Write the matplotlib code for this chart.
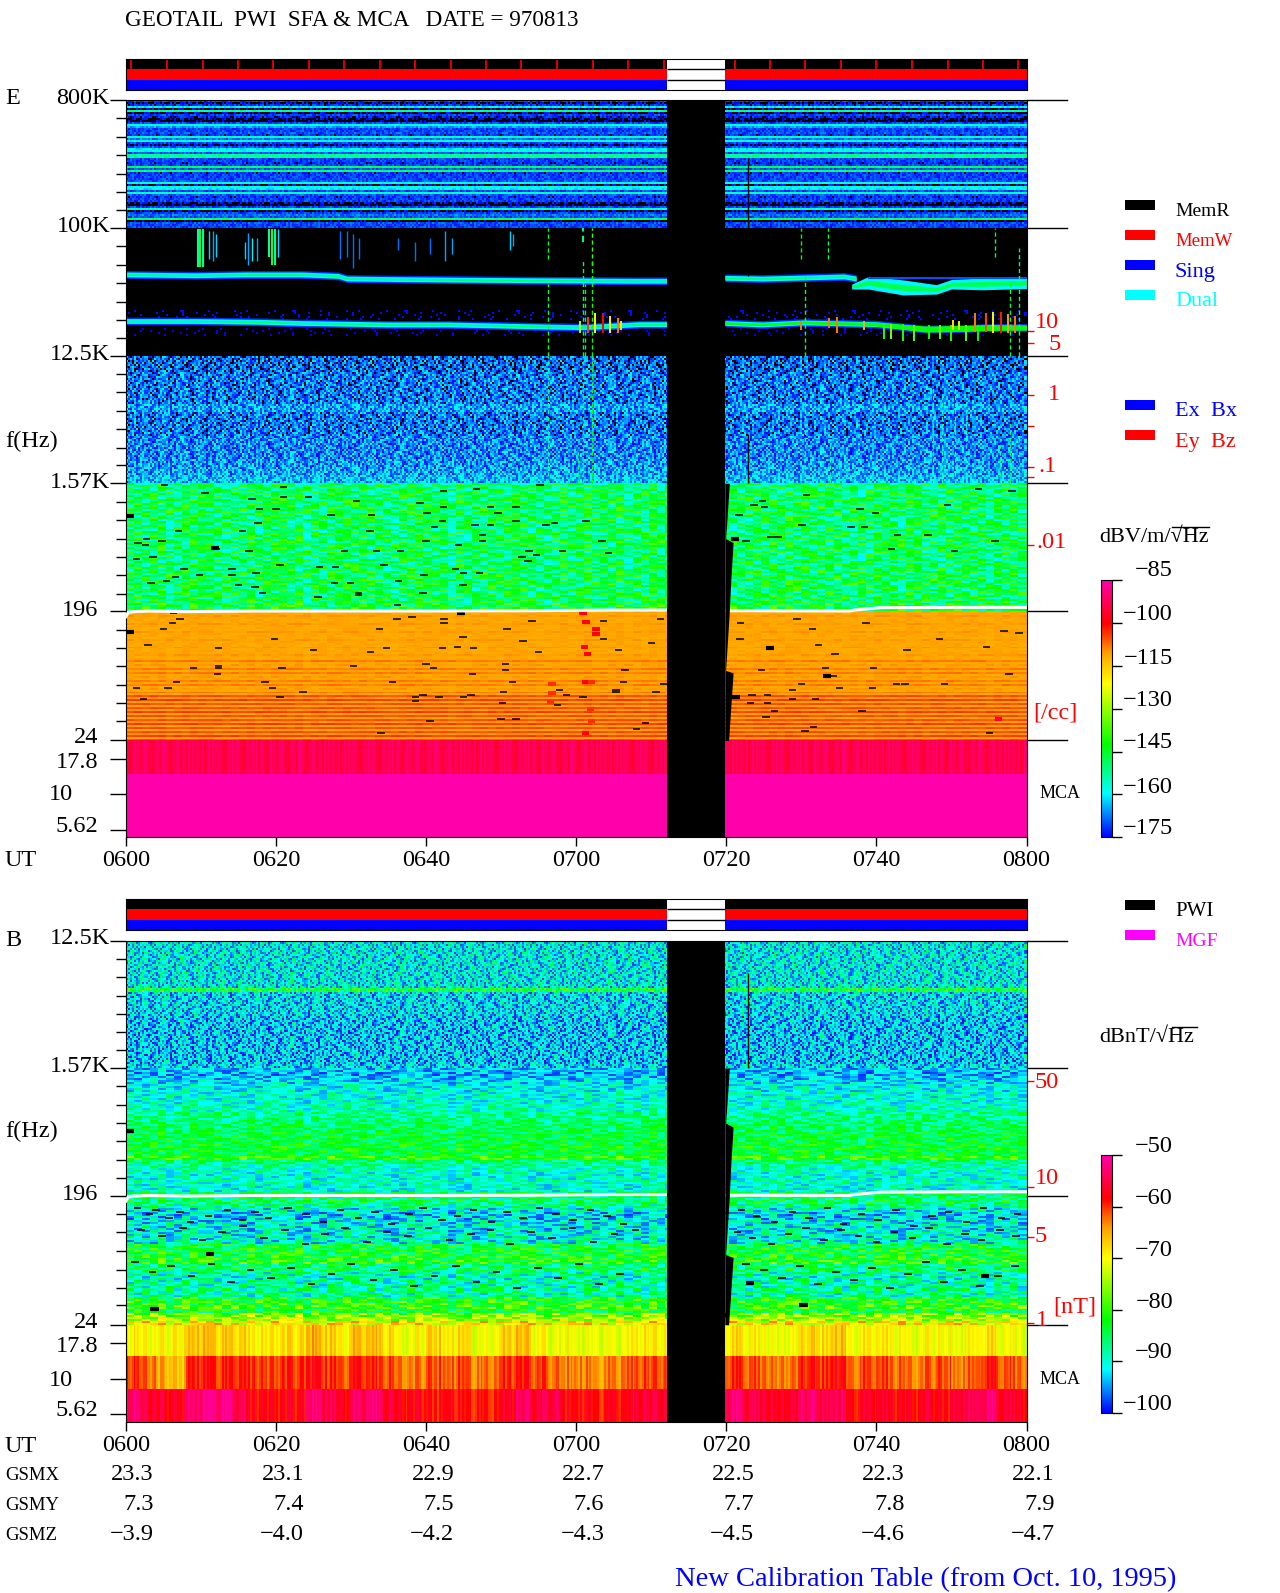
import numpy as np
import matplotlib
matplotlib.use("Agg")
from matplotlib import pyplot as plt
from matplotlib.lines import Line2D
from matplotlib.colors import LinearSegmentedColormap, Normalize
from matplotlib.cm import ScalarMappable

W, H = 1280, 1593
FONT = "Liberation Serif"

# tick and annotation values
UT_MIN = [0, 20, 40, 60, 80, 100, 120]
UT_LABELS = ["0600", "0620", "0640", "0700", "0720", "0740", "0800"]
GSMX = ["23.3", "23.1", "22.9", "22.7", "22.5", "22.3", "22.1"]
GSMY = ["7.3", "7.4", "7.5", "7.6", "7.7", "7.8", "7.9"]
GSMZ = ["-3.9", "-4.0", "-4.2", "-4.3", "-4.5", "-4.6", "-4.7"]
E_MAJOR = [800e3, 100e3, 12.5e3, 1570, 196, 24, 17.8, 10, 5.62]
B_MAJOR = [12.5e3, 1570, 196, 24, 17.8, 10, 5.62]
MINOR_E = [593e3, 440e3, 326e3, 242e3, 180e3, 133e3, 74e3, 55e3, 41e3, 30e3, 22.5e3, 16.7e3]
MINOR_LOW = [9300, 6900, 5100, 3800, 2800, 2100, 1165, 864, 640, 475, 352, 261, 145, 108, 80, 59, 44, 33]
E_LONG = [800e3, 100e3, 12.5e3, 1570, 196, 24]
B_LONG = [12.5e3, 1570, 196, 24]
MEM_TICKS = [0.7, 5.4, 10.2, 14.9, 19.6, 24.4, 29.1, 33.8, 38.5, 43.3, 48.0, 52.7, 57.5, 62.2, 66.9, 71.7,
             81.1, 85.8, 90.5, 95.3, 100.0, 104.7, 109.5, 114.2, 118.9]
GAP = [72.1, 79.8]
FMIN = 4.97

# gap edge below 1.57K, it is a saw tooth in the picture
GAP_F = [1570, 900, 640, 600, 330, 200, 196, 75, 72, 24]
GAP_T = [80.4, 80.1, 79.9, 80.9, 80.6, 80.4, 80.4, 79.9, 80.9, 80.3]

# E panel, dB per row, top to bottom
E_TOP_ROWS = [-171, -175, -172, -160, -176, -152, -176, -171, -173, -176, -177, -171, -157, -165, -171, -171,
              -170, -172, -155, -168, -158, -171, -175, -170, -160, -158, -170, -152, -152, -171, -171, -172,
              -171, -148, -170, -150, -172, -171, -171, -171, -170, -158, -175, -158, -160, -171, -155, -170,
              -172, -171, -171, -175, -177, -171, -155, -176, -171, -168, -170, -150, -177, -170, -171, -171]
E_MID_ROWS = [-190] * 29 + [-186] * 8 + [-185] * 4 + [-183] * 5 + [-186] * 4 + [-184] * 4 + [-190] * 10
E_SPECK_ROWS = [-169, -169, -168, -168, -168, -168, -165, -168, -168, -168, -167, -167, -167, -166, -165, -163]
E_COARSE_ROWS = [-149, -148, -147, -147, -148, -149, -148, -147, -148, -149, -148, -147, -147, -148, -147, -145]
E_LOW_ROWS = ([-111, -111, -110, -111, -111, -111, -110, -111] * 3 + [-111, -108, -111, -110, -111, -108] * 3 +
              [-111, -105, -110, -104, -111, -105] * 4)
E_MCA_LEVEL = [-93, -80]

# E panel dropouts, minute and row of the band
E_DASH1_T = [5.1, 10.5, 21, 24.3, 21, 16.8, 30.7, 17.8, 20, 27.3, 32.7, 39.2, 42.3, 46.7, 55.2, 42.3, 40.1, 48.6, 49.6, 52,
             52, 42.2, 46.5, 41.1, 48.6, 56, 57.1, 61.3, 32.5, 15.5, 17.6, 7, 2.7, 1.6, 4.8, 2.6, 1.4, 3.6, 12, 16.4,
             29.1, 33.4, 36.6, 40, 47.5, 44.3, 47.5, 53.7, 58.2, 63.4, 64.3, 52.8, 54.7, 34.4, 20.5, 14.1, 25.8, 27.9, 7.7, 6.6,
             9.8, 14.1, 17.3, 5.4, 3.3, 15, 17.2, 27.8, 29.9, 39.7, 43.9, 45, 47.1, 53.6, 36.3, 44.9, 18.2, 31, 31, 25.6, 39.6, 36.2,
             84.8, 83.7, 85.1, 81.7, 82.6, 90.1, 85.9, 86.9, 90.7, 97.8, 99.9, 98.4, 96.6, 102.8, 106.9, 113.6, 118.1, 109.5, 102.0, 110.4, 115.8]
E_DASH1_R = [1, 5, 2, 7, 7, 8, 9, 13, 13, 16, 16, 10, 4, 3, 1, 12, 15, 12, 15, 12, 19, 19, 21, 22, 21, 21, 20, 19, 24, 24,
             20, 24, 28, 30, 29, 31, 38, 37, 33, 34, 34, 34, 34, 29, 29, 31, 26, 34, 34, 29, 35, 37, 36, 41, 41, 43, 42, 42, 43, 47,
             46, 46, 45, 49, 50, 51, 52, 50, 50, 46, 43, 45, 45, 39, 49, 51, 55, 55, 56, 57, 55, 61,
             9, 11, 12, 16, 29, 21, 27, 27, 6, 13, 15, 22, 22, 26, 26, 3, 4, 11, 33, 34, 29]
E_DASH2_T = [6.3, 44.6, 7.2, 6.2, 5, 2.9, 12.3, 19.8, 25, 32.6, 33.8, 34.7, 36.1, 38.1, 42.4, 42.4, 44.9, 42.2, 44.2, 46.3,
             50.8, 52.9, 54.1, 55, 63.6, 63.6, 65.6, 9, 12.3, 12.3, 12.2, 20.8, 30.3, 40, 41, 46.2, 50.6, 50.6, 66.5, 66.3,
             6.7, 1.4, 5.6, 2.3, 18.5, 19.5, 20.5, 23.6, 35.5, 51.5, 50.3, 50.2, 39.6, 38.6, 38.6, 41.7, 45, 46, 57.8, 58.7,
             57.5, 65.3, 65.3, 60.9, 40.5, 50, 52, 34, 68,
             71.2, 70, 71.6, 70.6, 69.2, 81.9, 89.4, 91.5, 98.6, 81.8, 92.3, 104.1, 108.4, 114.7, 117, 119,
             94.5, 84.7, 93.2, 99.6, 94.2, 117.7, 102.7, 103.8, 109.1, 95.1, 99.5, 90, 88.8, 83.4, 85.5, 88.8, 91.9, 83.2, 85.5, 86.4, 85.3, 98.1, 91.6, 90.5, 115.1]
E_DASH2_R = [1, 1, 4, 6, 9, 17, 19, 14, 20, 21, 9, 19, 4, 3, 4, 6, 13, 19, 18, 19, 9, 15, 5, 21, 5, 14, 20, 29, 28, 29,
             32, 29, 28, 27, 29, 32, 27, 30, 30, 36, 36, 39, 39, 45, 36, 39, 44, 41, 36, 36, 41, 47, 43, 44, 46, 44, 44, 43, 40, 43,
             48, 40, 41, 44, 56, 55, 55, 62, 60,
             4, 16, 37, 41, 57, 6, 4, 9, 6, 14, 17, 20, 14, 18, 10, 11,
             22, 30, 29, 29, 33, 32, 37, 37, 37, 39, 39, 37, 40, 43, 43, 45, 45, 47, 47, 51, 54, 51, 59, 61, 62]
E_BLOCK_T = [0.5, 0.5, 11.9, 44.6, 81.2, 93.4, 81.3, 85.8]
E_BLOCK_F = [925, 141, 545, 190, 635, 69, 49, 108]

# E panel hot cells, minute and frequency
HOT_T = [60.9, 61.3, 62.6, 62.6, 61.1, 61.5, 56.8, 56.8, 56.6, 61.2, 61.9, 62, 61.2, 62.0, 116.3]
HOT_F = [190, 165, 148, 135, 110, 98, 60, 52, 45, 62, 40, 33, 27, 62, 34]
HOT_DB = [-100, -100, -100, -100, -100, -100, -103, -103, -103, -100, -103, -103, -100, -103, -95]

# wave traces in the 100K to 12.5K band, kHz
UP_T = [0, 9.3, 15.8, 23.4, 28.3, 29.4, 37.5, 53.8, 68.4, 72.1]
UP_F = [46.9, 46.3, 46.9, 46.9, 45.8, 43.9, 43.4, 42.7, 42.3, 42.3]
UP_R_T = [79.8, 84.8, 90.2, 95.7, 97.3]
UP_R_F = [44.4, 43.9, 44.6, 45.4, 43.9]
BR_T = [96.7, 99, 103.5, 108, 110, 114, 120]
BR_F = [38.5, 41.0, 38.0, 36.8, 40.0, 40.2, 41.0]
BR_W = [1.04, 1.11, 1.13, 1.08, 1.08, 1.10, 1.10]
WEAK_T = [99, 120]
WEAK_F = [44.6, 44.6]
LOW_T = [0, 9.3, 18, 23.4, 34.8, 43, 56, 61, 68.4, 72.1]
LOW_F = [22.0, 22.0, 21.7, 21.3, 20.8, 20.8, 20.1, 19.9, 20.9, 20.9]
LOW_R_T = [79.8, 84.8, 90.2, 100, 106.5, 112, 114.7, 120]
LOW_R_F = [21.3, 20.8, 21.5, 20.9, 19.3, 19.5, 19.8, 19.8]
LOW_R_W = [1.02, 1.02, 1.02, 1.03, 1.05, 1.05, 1.05, 1.04]

# bursts and vertical lines: minute, top and bottom kHz, dB
BURST_T = [9.6, 9.9, 10.2, 11.0, 11.6, 12.0, 15.8, 16.2, 16.8, 17.4, 19.1, 19.5, 19.9, 20.3, 28.5, 29.4, 30.2, 31.0,
           36.3, 38.5, 40.5, 42.5, 43.5, 51.2, 51.6,
           56.2, 56.2, 60.9, 60.9, 61.1, 62.1, 62.1, 90.0, 90.5, 93.5, 115.8, 117.8, 119.0,
           101, 102, 103.5, 105, 107, 108.5, 110, 112, 113.5, 60.5, 61.5, 62.5, 63.5, 64.5, 65.5, 66, 90, 93.7, 94.8, 98.3,
           110.2, 111, 113.2, 114.6, 115.6, 116.6, 117.6, 118.5]
BURST_TOP = [98, 98, 98, 95, 95, 90, 80, 92, 85, 85, 98, 98, 98, 98, 95, 95, 90, 85,
             85, 80, 85, 95, 85, 95, 90,
             100, 40, 100, 60, 40, 100, 60, 100, 48, 100, 100, 42, 72,
             21, 21, 21, 20.5, 20.5, 20.5, 20.5, 20.5, 20.5, 22, 23.5, 25, 25, 24, 23, 22, 22, 23, 23.5, 22,
             22.5, 22, 25, 25, 25.5, 25.5, 24.5, 24]
BURST_BOT = [53, 53, 53, 60, 58, 62, 60, 55, 58, 58, 62, 55, 55, 62, 60, 62, 52, 60,
             70, 58, 65, 58, 65, 70, 75,
             60, 12.5, 80, 12.5, 12.5, 55, 12.5, 60, 12.5, 60, 62, 12.5, 12.5,
             16.5, 16.5, 16, 16, 16.5, 16.5, 16, 16, 16, 18, 18, 18, 18, 18, 18, 19, 19, 19.5, 18, 19,
             19, 19, 18.5, 18.5, 18, 18, 18, 18]
BURST_DB = [-152, -147, -152, -162, -165, -162, -162, -165, -160, -165, -152, -147, -152, -162, -168, -168, -168, -168,
            -168, -168, -168, -165, -165, -162, -165,
            -145, -146, -150, -146, -144, -138, -142, -142, -146, -148, -146, -146, -148,
            -140, -132, -140, -135, -142, -135, -140, -135, -142, -128, -104, -120, -100, -120, -108, -125, -108, -108, -108, -112,
            -118, -125, -108, -105, -122, -102, -110, -108]
BURST_LW = [1.5, 1.5, 1.5, 1, 1, 1, 1, 1, 1, 1, 1.5, 1.5, 1.5, 1, 1, 1, 1, 1,
            1, 1, 1, 1, 1, 1, 1,
            1, 1, 1.5, 1, 1, 1, 1, 1, 1, 1, 1, 1, 1,
            1.4, 1.4, 1.4, 1.4, 1.4, 1.4, 1.4, 1.4, 1.4, 1.4, 1.4, 1.4, 1.4, 1.4, 1.4, 1.4, 1.4, 1.4, 1.4, 1.4,
            1.4, 1.4, 1.4, 1.4, 1.4, 1.4, 1.4, 1.4]
N_SOLID = 25    # the next 13 are the dotted long lines
N_DOTTED = 38
# same thing below 12.5K, in Hz
STREAK_T = [56.2, 60.9, 62.1, 60.2, 90.5, 93.8, 95, 107.5, 108.8, 110.5, 112, 116.5, 117.8, 119]
STREAK_TOP = [12500, 12500, 12500, 2600, 7000, 3000, 2400, 7500, 6500, 8000, 6200, 3300, 4300, 3400]
STREAK_DB = [-152, -148, -142, -150, -158, -152, -155, -158, -155, -158, -158, -152, -148, -152]

# B panel, dB per row, top to bottom
B_SPECK_ROWS = [-91, -91, -91, -91, -91, -91, -91, -91, -91, -91, -91, -91, -83, -92, -92, -92,
                -92, -92, -92, -93, -93, -93, -93, -93, -93, -93, -93, -93, -93, -93, -93, -92]
B_COARSE_ROWS = [-93, -94, -93, -92, -91, -91, -90, -90, -90, -89, -89, -87, -87, -86, -85, -85,
                 -84, -84, -84, -83, -83, -84, -80, -86, -88, -89, -90, -90, -89, -90, -90, -85]
B_LOW_ROWS = [-86, -85, -87, -90, -92, -92, -91, -90, -91, -90, -90, -90, -84, -83, -83, -82,
              -81, -86, -85, -88, -89, -88, -88, -87, -88, -82, -81, -80, -83, -76, -74, -69]
B_DASH_T = [1.5, 3.1, 4, 5.7, 7.2, 8.6, 11, 13.5, 15.5, 17.2, 19, 21.6, 24, 26.3, 28.6, 31, 33.2, 35.4, 37.7, 39.6, 42.1, 44.2, 46.3, 48.7, 50.8, 52.9, 55.1, 57.3, 59.6, 61.9, 64.1, 66.3,
            2, 4.8, 7.6, 10.2, 12.8, 15.6, 18.4, 21.2, 23.9, 26.5, 29.2, 32.1, 34.8, 37.6, 40.3, 43.1, 46, 48.6, 51.2, 54, 56.8, 59.5, 62.3, 65.1, 67.9,
            1.2, 3.5, 6, 8.7, 11.4, 14, 16.6, 19.3, 22, 24.7, 27.4, 30, 33, 35.7, 38.4, 41.1, 44, 46.7, 49.4, 52.1, 54.9, 57.6, 60.4, 63, 65.8,
            82, 84, 86.4, 88.8, 91, 93.5, 95.6, 98, 100.2, 102.6, 105, 107.4, 109.6, 112, 114.3, 116.7, 118.8,
            81.5, 83.5, 86, 88.3, 90.6, 93, 95.3, 97.6, 100, 102.4, 104.8, 107, 109.4, 111.8, 114, 116.5, 118.6,
            82.6, 85, 87.4, 89.8, 92.2, 94.6, 97, 99.4, 101.8, 104.2, 106.6, 109, 111.4, 113.8, 116.2, 118.5]
B_DASH_R = [6, 9, 7, 11, 8, 13, 10, 7, 12, 8, 11, 6, 9, 13, 7, 11, 8, 14, 9, 6, 12, 10, 7, 13, 8, 11, 6, 9, 12, 7, 10, 14,
            17, 20, 16, 22, 18, 15, 21, 17, 24, 19, 16, 23, 18, 20, 16, 22, 19, 17, 24, 18, 21, 16, 23, 19, 17,
            33, 38, 35, 40, 34, 43, 37, 41, 36, 44, 39, 34, 42, 37, 45, 40, 35, 43, 38, 46, 36, 41, 34, 44, 39,
            7, 10, 13, 8, 11, 6, 14, 9, 12, 7, 15, 10, 8, 13, 6, 11, 9,
            18, 21, 24, 19, 16, 22, 17, 20, 23, 18, 21, 16, 24, 19, 22, 17, 20,
            34, 37, 41, 35, 44, 38, 42, 36, 46, 39, 33, 43, 37, 45, 40, 35]
B_BLOCK_T = [0.5, 11.2, 3.8, 79.4, 83.2, 90.3, 114.5]
B_BLOCK_F = [565, 76, 31, 28, 47, 33, 53]

# B MCA channels, one value per 2 minutes
B_MCA_1 = [-69, -70, -70, -69, -66, -66, -67, -67, -69, -69, -68, -68, -65, -67, -69, -66, -66, -68, -71, -70,
           -67, -69, -68, -71, -70, -67, -66, -70, -71, -70, -71, -71, -71, -70, -69, -69, -69, -69, -69, -69,
           -68, -69, -70, -71, -70, -67, -68, -66, -70, -69, -69, -70, -71, -70, -70, -71, -70, -68, -70, -71]
B_MCA_2 = [-60, -62, -65, -66, -59, -59, -60, -59, -60, -61, -60, -60, -58, -60, -61, -59, -60, -61, -63, -63,
           -61, -62, -61, -63, -62, -60, -59, -61, -62, -63, -63, -64, -63, -62, -61, -61, -61, -61, -61, -61,
           -60, -61, -62, -63, -62, -59, -60, -58, -62, -61, -61, -62, -63, -62, -61, -63, -62, -59, -61, -62]
B_MCA_3 = [-53, -56, -57, -57, -53, -52, -52, -54, -58, -58, -58, -58, -53, -55, -57, -54, -53, -56, -58, -58,
           -59, -58, -59, -59, -59, -57, -54, -56, -55, -58, -58, -59, -58, -58, -56, -56, -56, -56, -56, -56,
           -53, -55, -56, -57, -56, -53, -55, -54, -58, -57, -57, -58, -58, -57, -58, -56, -55, -53, -56, -57]

# 196 Hz gyro line
GYRO_T = [0, 0.3, 1, 3, 8, 17, 25, 40, 55, 65, 72.1]
GYRO_F = [180, 193, 195, 197, 195, 197, 197, 197, 198, 200, 200]
GYRO_R_T = [79.8, 96.5, 97, 100.6, 112, 120]
GYRO_R_F = [198, 197, 200, 208, 209, 209]

# red density scale ticks, Hz
RED_E_F = [18600, 15400, 6600, 3990, 2047, 1740, 577]
RED_B_F = [1261, 225, 100.6, 24.6]

# cell to cell scatter. Typed by eye as a short patch to stand for the speckle, the rows are
# cycled, so this is the look of the noise and not the picture cell by cell
TEXTURE_ROWS = [
    "72039461588230475199620348715509273641802937466510283947721065384916",
    "158390274661029573844192830657488129304755619203748661230957483024",
    "90417725363819046628157309942680135578240916733048265191704386252917",
    "366180529047714936025881473609125574830962140783529601367498152",
    "48251907336649218075530924867113096482750369148227036591845",
    "2079631485502748196338016975240361892741056384209571683029471",
    "635811240979427360518892463107752198640339175024686513920847361",
    "1749083625520361479908216475533086912743025618469073125889",
    "8302567194466012835974120369875542018637092415786336019482507",
    "54169203788134520697426381099357164220583974613068517492",
    "29740618356023198745510682379416027938165470392586114736",
    "0618453927784016235590761482963301274859630918547260723981",
    "9357126840021586973364470912589236180475511690283746015249683",
    "47025983161733904586629018741253609487720531968340216590",
    "8164390527749201635038851764219063492751380867924153600248",
    "3592071648102756934880241963570136689425071384529611",
    "60738142955186204793360572814999214063857361025947830",
    "2419650873347180296551038629747102589436015726948063158",
    "7536018492260745183911762058349640713895226017493285",
    "18247039656390128745032971684855201396470683291754086231",
    "9405312867716520948334087619250368917542236049718",
    "53869127040482751639061274358896104723591680234769501",
    "06327198455938261704482960537157308649121785403962",
    "7120845936681935027449301687252684097315103759286418",
    "4967301258879126043553180276949140623857093625174808",
    "2835614790061247389525097836141783059264901563228",
    "81092375465302897164480712563938160472951407368259",
    "39478012656218390746190253784016647589233105928",
    "6510973284457032681979214063585382017496120734690",
    "1284756093306519428797346012586240918357704215",
    "75936021848120675394428013769561094823370562918",
    "0346918257792804136565172984030748629510136742",
]

E_NORM = Normalize(-175, -85)
B_NORM = Normalize(-100, -50)
CMAP = LinearSegmentedColormap.from_list("pwi", [(0, "#0000ff"), (0.17, "#00ffff"), (0.36, "#00ff00"), (0.6, "#ffff00"),
                                                 (0.72, "#ffa000"), (0.83, "#ff0000"), (1, "#ff00aa")], N=256)
CMAP.set_under("black")
CMAP.set_bad("black")


def texture(n_rows, n_cols):
    out = np.zeros((n_rows, n_cols))
    for r in range(n_rows):
        row = TEXTURE_ROWS[r % len(TEXTURE_ROWS)]
        out[r] = [int(row[c % len(row)]) for c in range(n_cols)]
    return (out - 4.5) / 4.5


def band(ax, f_top, f_bot, n_cols, rows, spread, norm):
    rows = np.array(rows, dtype=float)
    edges = np.geomspace(f_top, f_bot, len(rows) + 1)
    vals = rows[:, None] + spread * texture(len(rows), n_cols)
    ax.pcolormesh(np.linspace(0, 120, n_cols + 1), edges, vals, cmap=CMAP, norm=norm, zorder=1)
    return edges


def label(x, y, s, color="black", size=17.5, ha="left", **kw):
    return fig.text(x / W, 1 - y / H, s, color=color, fontsize=size, ha=ha, va="center", family=FONT, **kw)


def panel(top, bottom, fmax, major, minor, long_ticks):
    ax = fig.add_axes([126 / W, 1 - bottom / H, 900.5 / W, (bottom - top) / H], facecolor="black")
    ax.set_yscale("log")
    ax.set_xlim(0, 120)
    ax.set_ylim(FMIN, fmax)
    ax.set_yticks(major)
    ax.set_yticks(minor, minor=True)
    ax.set_yticklabels([])
    ax.set_yticklabels([], minor=True)
    ax.tick_params(axis="y", which="major", length=11.5, width=1)
    ax.tick_params(axis="y", which="minor", length=7, width=1)
    ax.set_xticks(UT_MIN)
    ax.set_xticklabels(UT_LABELS, family=FONT, fontsize=17.5)
    ax.tick_params(axis="x", length=6.5, width=1, pad=3)
    for f in long_ticks:
        ax.plot([1, 1.045], [f, f], color="black", lw=1, transform=ax.get_yaxis_transform(), clip_on=False)
    return ax


def finish(ax):
    ax.axvspan(GAP[0], GAP[1], color="black", zorder=5, lw=0)
    ax.fill_betweenx(GAP_F, GAP[1], GAP_T, color="black", zorder=5, lw=0)
    ax.plot(GYRO_T, GYRO_F, color="white", lw=2.2, zorder=4)
    ax.plot(GYRO_R_T, GYRO_R_F, color="white", lw=2.2, zorder=4)


def status_bars(top, bottom, ticks):
    ax = fig.add_axes([126 / W, 1 - bottom / H, 900.5 / W, (bottom - top) / H], facecolor="white")
    spans = [(0, GAP[0]), (GAP[1], 120 - GAP[1])]
    for y, color in zip([2, 1, 0], ["black", "red", "blue"]):
        ax.broken_barh(spans, (y, 1), facecolor=color)
    ax.hlines([1, 2], GAP[0], GAP[1], color="black", lw=1)
    if ticks:
        ax.vlines(ticks, 2.05, 3, color="red", lw=1.2)
    ax.set_xlim(0, 120)
    ax.set_ylim(0, 3)
    ax.set_xticks([])
    ax.set_yticks([])


def colorbar(top, bottom, norm, ticks):
    cax = fig.add_axes([1100.5 / W, 1 - bottom / H, 11 / W, (bottom - top) / H])
    cb = fig.colorbar(ScalarMappable(norm=norm, cmap=CMAP), cax=cax, ticks=ticks)
    cb.ax.set_yticklabels([])
    cb.ax.tick_params(length=7, width=1, right=True)
    cb.outline.set_linewidth(0.8)
    cb.outline.set_edgecolor("#000000")


def blocks(ax, ts, fs):
    ts = np.array(ts)
    ax.hlines(fs, ts - 0.55, ts + 0.55, color="black", lw=3, zorder=3)


fig = plt.figure(figsize=(W / 100, H / 100), dpi=100)

# ---------- E panel
status_bars(59.3, 89.7, MEM_TICKS)
ax = panel(100, 837.3, 800e3, E_MAJOR, MINOR_E + MINOR_LOW, E_LONG)
band(ax, 800e3, 100e3, 450, E_TOP_ROWS, 3.2, E_NORM)
band(ax, 100e3, 12.5e3, 450, E_MID_ROWS, 9, E_NORM)
band(ax, 12.5e3, 1570, 450, np.repeat(E_SPECK_ROWS, 4), 8, E_NORM)
e1 = band(ax, 1570, 196, 112, np.repeat(E_COARSE_ROWS, 4), 11, E_NORM)
e2 = band(ax, 196, 24, 112, E_LOW_ROWS, 1, E_NORM)
band(ax, 24, 14, 450, [E_MCA_LEVEL[0]], 3, E_NORM)
band(ax, 14, FMIN, 450, [E_MCA_LEVEL[1]], 0, E_NORM)

for r_list, t_list, edges in [(E_DASH1_R, E_DASH1_T, e1), (E_DASH2_R, E_DASH2_T, e2)]:
    ys = edges[np.array(r_list)]
    ts = np.array(t_list)
    ax.hlines(ys, ts - 0.5, ts + 0.5, color="black", lw=1.1, zorder=3)
blocks(ax, E_BLOCK_T, E_BLOCK_F)
hot = np.array(HOT_T)
ax.hlines(HOT_F, hot - 0.5, hot + 0.5, colors=CMAP(E_NORM(np.array(HOT_DB))), lw=3, zorder=3)

kHz = 1000.0
for ts, fs in [(UP_T, UP_F), (UP_R_T, UP_R_F), (LOW_T, LOW_F), (LOW_R_T, LOW_R_F)]:
    fs = np.array(fs) * kHz
    ax.fill_between(ts, fs / 1.065, fs * 1.065, color=CMAP(E_NORM(-172)), lw=0, zorder=2)
    ax.fill_between(ts, fs / 1.04, fs * 1.04, color=CMAP(E_NORM(-160)), lw=0, zorder=2)
    ax.fill_between(ts, fs / 1.014, fs * 1.014, color=CMAP(E_NORM(-150)), lw=0, zorder=2)
fs = np.array(BR_F) * kHz
w = np.array(BR_W)
ax.fill_between(BR_T, fs / w, fs * w, color=CMAP(E_NORM(-160)), lw=0, zorder=2)
ax.fill_between(BR_T, fs / w ** 0.4, fs * w ** 0.4, color=CMAP(E_NORM(-148)), lw=0, zorder=2)
ax.plot(WEAK_T, np.array(WEAK_F) * kHz, color=CMAP(E_NORM(-170)), lw=1.5, zorder=2)
fs = np.array(LOW_R_F) * kHz
w = np.array(LOW_R_W)
ax.fill_between(LOW_R_T, fs / w, fs * w, color=CMAP(E_NORM(-142)), lw=0, zorder=2)

bt, btop, bbot = np.array(BURST_T), np.array(BURST_TOP) * kHz, np.array(BURST_BOT) * kHz
bcol, blw = CMAP(E_NORM(np.array(BURST_DB))), np.array(BURST_LW)
ax.vlines(bt[:N_SOLID], bbot[:N_SOLID], btop[:N_SOLID], colors=bcol[:N_SOLID], lw=blw[:N_SOLID], zorder=2.5)
ax.vlines(bt[N_SOLID:N_DOTTED], bbot[N_SOLID:N_DOTTED], btop[N_SOLID:N_DOTTED], colors=bcol[N_SOLID:N_DOTTED],
          lw=blw[N_SOLID:N_DOTTED], linestyles=(0, (3, 2)), zorder=2.5)
ax.vlines(bt[N_DOTTED:], bbot[N_DOTTED:], btop[N_DOTTED:], colors=bcol[N_DOTTED:], lw=blw[N_DOTTED:], zorder=2.5)
ax.vlines(STREAK_T, 1570, STREAK_TOP, colors=CMAP(E_NORM(np.array(STREAK_DB))), lw=1, linestyles=(0, (3, 2)), zorder=2.5)
ax.vlines([82.9, 82.9], [1570, 46000], [3500, 310000], color="black", lw=1, zorder=2.6)
finish(ax)
ax.hlines(RED_E_F, 120, 121, color="red", lw=1, clip_on=False)

# ---------- B panel
status_bars(899.3, 929.7, None)
bx = panel(940.5, 1421.5, 12.5e3, B_MAJOR, MINOR_LOW, B_LONG)
band(bx, 12.5e3, 1570, 450, np.repeat(B_SPECK_ROWS, 2), 6.5, B_NORM)
band(bx, 1570, 196, 112, np.repeat(B_COARSE_ROWS, 2), 4.5, B_NORM)
b2 = band(bx, 196, 24, 112, np.repeat(B_LOW_ROWS, 2), 6, B_NORM)
ys = b2[np.array(B_DASH_R)]
ts = np.array(B_DASH_T)
bx.hlines(ys, ts - 0.5, ts + 0.5, color="black", lw=1.2, zorder=3)
blocks(bx, B_BLOCK_T, B_BLOCK_F)
for mca, f_top, f_bot in [(B_MCA_1, 24, 14.5), (B_MCA_2, 14.5, 8.5), (B_MCA_3, 8.5, FMIN)]:
    fine = np.repeat(mca, 8)[None, :] + 2.2 * texture(1, 480)
    bx.pcolormesh(np.linspace(0, 120, 481), [f_top, f_bot], fine, cmap=CMAP, norm=B_NORM, zorder=1)
bx.vlines([82.9], [1570], [7400], color="black", lw=1, zorder=2.6)
finish(bx)
bx.hlines(RED_B_F, 120, 121, color="red", lw=1, clip_on=False)

# ---------- colour bars
colorbar(580.3, 837.3, E_NORM, [-175, -160, -145, -130, -115, -100, -85])
colorbar(1155, 1413, B_NORM, [-100, -90, -80, -70, -60, -50])

# ---------- texts
label(125, 20, "GEOTAIL  PWI  SFA & MCA   DATE = 970813", size=16.7)
label(5, 98, "E")
label(5, 441, "f(Hz)")
label(5, 860, "UT")
label(5, 940, "B")
label(5, 1131, "f(Hz)")
label(5, 1446, "UT")
for y, name, vals in [(1475, "GSMX", GSMX), (1505, "GSMY", GSMY), (1535, "GSMZ", GSMZ)]:
    label(5, y, name, size=13.5)
    for i, v in enumerate(vals):
        label(154 + i * 150.1, y, v.replace("-", "\u2212"), ha="right")
for y, s, x in [(98, "800K", 110), (227, "100K", 110), (354, "12.5K", 110), (482, "1.57K", 110), (610, "196", 98),
                (738, "24", 98), (762, "17.8", 98), (794, "10", 73), (826, "5.62", 98),
                (938, "12.5K", 110), (1066, "1.57K", 110), (1194, "196", 98), (1322, "24", 98),
                (1347, "17.8", 98), (1380, "10", 73), (1411, "5.62", 98)]:
    label(x, y, s, ha="right")
for x, y, s in [(1035, 322, "10"), (1048, 345, "5"), (1048, 395, "1"), (1038, 467, ".1"), (1036, 543, ".01"),
                (1033, 713, "[/cc]"), (1035, 1082, "50"), (1035, 1178, "10"), (1035, 1236, "5"), (1036, 1320, "1"),
                (1053, 1307, "[nT]")]:
    label(x, y, s, color="red")
label(1040, 793, "MCA", size=13)
label(1040, 1379, "MCA", size=13)

for y, s, c, size in [(205, "MemR", "black", 14), (235, "MemW", "red", 13.5), (265, "Sing", "blue", 16), (295, "Dual", "cyan", 16),
                      (405, "Ex  Bx", "blue", 16), (435, "Ey  Bz", "red", 16), (905, "PWI", "black", 15), (935, "MGF", "magenta", 14)]:
    fig.patches.append(plt.Rectangle((1125 / W, 1 - (y + 5) / H), 30 / W, 10 / H, facecolor=c, transform=fig.transFigure))
    label(1175, y + 7, s, color=c, size=size)

label(1099, 538, "dBV/m/\u221aHz", size=16)
label(1099, 1038, "dBnT/\u221aHz", size=16)
for x0, x1, y in [(1172, 1209, 527), (1172, 1197, 1027)]:
    fig.add_artist(Line2D([x0 / W, x1 / W], [1 - y / H, 1 - y / H], color="black", lw=1))
for y, s in zip([571, 615, 659, 701, 743, 787, 829], ["-85", "-100", "-115", "-130", "-145", "-160", "-175"]):
    label(1173, y, s.replace("-", "\u2212"), ha="right")
for y, s in zip([1146, 1199, 1250, 1302, 1352, 1404], ["-50", "-60", "-70", "-80", "-90", "-100"]):
    label(1173, y, s.replace("-", "\u2212"), ha="right")

label(675, 1580, "New Calibration Table (from Oct. 10, 1995)", color="blue", size=20.5)

fig.savefig("out.png", dpi=100)
